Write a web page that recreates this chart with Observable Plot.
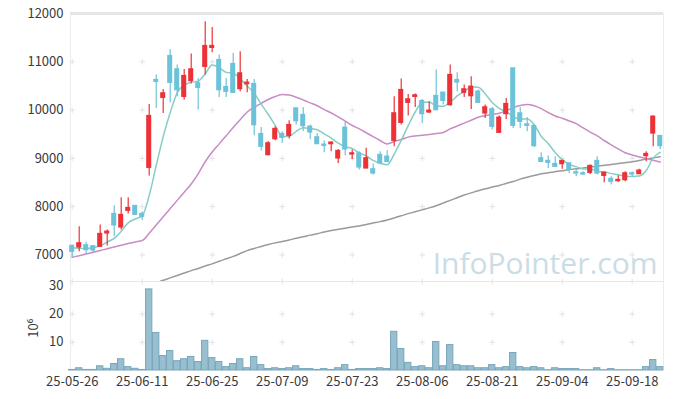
<!DOCTYPE html>
<html><head><meta charset="utf-8">
<script src="https://cdn.jsdelivr.net/npm/d3@7"></script>
<script src="https://cdn.jsdelivr.net/npm/@observablehq/plot@0.6"></script>
<style>
body{margin:0;background:#fff;}
#wrap{position:relative;width:673px;height:399px;}
#wrap svg{position:absolute;left:0;overflow:visible;}
</style></head><body><div id="wrap"></div>
<script>
const dates = ["25-05-26","25-05-27","25-05-28","25-05-29","25-05-30","25-06-02","25-06-04","25-06-05","25-06-09","25-06-10",
"25-06-11","25-06-12","25-06-13","25-06-16","25-06-17","25-06-18","25-06-19","25-06-20","25-06-23","25-06-24",
"25-06-25","25-06-26","25-06-27","25-06-30","25-07-01","25-07-02","25-07-03","25-07-04","25-07-07","25-07-08",
"25-07-09","25-07-10","25-07-11","25-07-14","25-07-15","25-07-16","25-07-17","25-07-18","25-07-21","25-07-22",
"25-07-23","25-07-24","25-07-25","25-07-28","25-07-29","25-07-30","25-07-31","25-08-01","25-08-04","25-08-05",
"25-08-06","25-08-07","25-08-08","25-08-11","25-08-12","25-08-13","25-08-14","25-08-18","25-08-19","25-08-20",
"25-08-21","25-08-22","25-08-25","25-08-26","25-08-27","25-08-28","25-08-29","25-09-01","25-09-02","25-09-03",
"25-09-04","25-09-05","25-09-08","25-09-09","25-09-10","25-09-11","25-09-12","25-09-15","25-09-16","25-09-17",
"25-09-18","25-09-19","25-09-22","25-09-23","25-09-24"];

const open = [7185,7157,7198,7178,7171,7447,7847,7571,7916,8013,
7847,8806,10621,10255,11118,10842,10276,10601,10552,10897,
11290,11035,10476,10952,10435,10538,10538,9503,9069,9400,
9503,9469,10034,9897,9655,9434,9282,9296,9000,9634,
9082,9103,8792,8772,9069,9034,9365,9738,10152,10276,
10186,9952,10290,10359,10103,10621,10359,10290,10380,9931,
10014,9531,9917,10862,9931,9703,9669,9000,8945,8882,
8882,8896,8709,8689,8703,8945,8640,8572,8530,8551,
8689,8675,9048,9517,9462];
const high = [7205,7585,7261,7185,7620,7516,8020,8185,8185,8020,
7895,10117,10725,10428,11256,10932,10842,11159,10655,11829,
11711,11138,10655,11173,11207,10635,10635,9641,9345,9655,
9552,9779,10034,10055,9690,9517,9358,9345,9186,9759,
9172,9138,9207,8882,9138,9158,10276,10642,10324,10331,
10221,10172,10828,10359,10932,10773,10518,10690,10414,10103,
10055,9876,10241,10862,10055,9848,9690,9117,9048,9034,
8945,8896,8772,8723,8862,9034,8703,8620,8640,8723,
8723,8772,9138,9876,9462];
const low = [6930,7067,7012,7047,7157,7185,7378,7516,7847,7826,
7709,8634,10034,9931,10152,10276,10207,10538,10000,10725,
11187,10262,10262,10345,10380,10359,9469,9151,9055,9365,
9310,9400,9690,9551,9393,9296,9117,9138,8896,9055,
8979,8758,8792,8654,8882,8910,9241,9690,9876,10055,
9724,9931,10000,10103,10083,10380,10262,10014,10152,9828,
9586,9531,9807,9621,9621,9552,9227,8917,8792,8813,
8772,8689,8620,8654,8668,8654,8496,8447,8503,8517,
8620,8675,8930,9241,9186];
const close = [7067,7240,7102,7095,7433,7480,7613,7827,7971,7833,
7792,9876,10587,10345,10566,10414,10704,10842,10462,11325,
11325,10414,10380,10359,10759,10566,9689,9241,9310,9607,
9427,9689,9772,9669,9538,9296,9262,9324,9151,9186,
9103,8813,9000,8689,8896,8930,9931,10414,10221,10303,
9917,9986,10000,10193,10725,10573,10428,10483,10152,10055,
9655,9841,10124,9676,9759,9676,9255,8930,8910,8827,
8945,8772,8689,8668,8841,8689,8703,8517,8551,8689,
8668,8744,9089,9862,9255];
// volume, millions of shares
const volume = [0.2,0.8,0.2,0.2,1.5,0.6,2.3,4.0,1.2,0.6,
0.2,28.7,13.3,5.1,6.9,3.3,4.0,4.8,3.0,10.5,
4.4,3.0,1.2,2.3,4.0,0.8,4.8,1.9,0.5,0.8,
0.5,0.8,1.5,0.5,0.5,0.2,0.5,0.2,0.8,1.9,
0.2,0.5,0.5,0.5,0.8,0.5,13.7,7.6,2.7,1.2,
1.5,0.8,10.1,1.5,9.0,1.9,1.5,1.5,0.8,0.8,
1.9,0.8,1.2,6.2,1.2,0.8,1.2,0.8,0.1,0.8,
0.5,0.5,0.5,0.1,0.1,0.8,0.1,0.5,0.1,0.1,
0.1,0.1,1.2,3.7,1.2];
// moving averages
const ma5 = [7150,7140,7130,7150,7187,7270,7345,7490,7665,7745,
7807,8230,8850,9450,9950,10358,10523,10574,10598,10749,
10932,10874,10781,10761,10647,10496,10351,10123,9913,9683,
9455,9455,9561,9633,9619,9593,9507,9418,9314,9244,
9205,9115,9051,8958,8900,8866,9089,9372,9678,9960,
10157,10168,10085,10080,10164,10295,10384,10480,10472,10338,
10155,10037,9965,9870,9811,9815,9698,9459,9306,9120,
8973,8877,8829,8780,8783,8732,8718,8684,8660,8630,
8626,8634,8748,9010,9124];
const ma20 = [6950,6985,7020,7055,7090,7130,7165,7200,7235,7270,
7300,7450,7620,7790,7960,8130,8300,8470,8680,8930,
9130,9300,9470,9640,9800,9960,10060,10140,10220,10280,
10324,10310,10265,10210,10150,10090,10010,9940,9860,9770,
9680,9610,9530,9450,9370,9300,9350,9390,9440,9465,
9480,9495,9515,9535,9610,9670,9730,9790,9850,9885,
9910,9935,9990,10050,10095,10117,10090,10030,9950,9876,
9830,9775,9720,9630,9545,9465,9370,9280,9195,9117,
9070,9030,9000,8960,8924];
const maLongStart = 12;
const maLong = [6420,6475,6525,6575,6625,6675,6720,6770,
6815,6870,6920,6970,7030,7090,7135,7175,7215,7250,
7280,7310,7345,7375,7410,7440,7475,7505,7530,7555,
7580,7600,7630,7660,7690,7725,7765,7810,7855,7895,
7935,7975,8020,8075,8130,8185,8240,8285,8330,8370,
8405,8440,8480,8520,8570,8610,8645,8680,8700,8725,
8745,8765,8785,8800,8820,8838,8855,8875,8892,8910,
8930,8955,8985,9010,9034];
const priceTicks = [7000,8000,9000,10000,11000,12000];
const gridPrices = [7000,8000,9000,10000,11000];
const volumeTicks = [10,20,30];
const dateTicks = [0,10,20,30,40,50,60,70,80];

const RED = "#ec3237", BLUE = "#6cc3d9";
const FONT = "'Noto Sans CJK KR','Noto Sans',sans-serif";
const xDomain = [-0.243, 84.47];

const candles = dates.map((d, i) => ({i, o: open[i], h: high[i], l: low[i], c: close[i], up: close[i] >= open[i]}));
const vols = volume.map((v, i) => ({i, v}));
const l5 = ma5.map((v, i) => ({i, v}));
const l20 = ma20.map((v, i) => ({i, v}));
const lL = maLong.map((v, k) => ({i: k + maLongStart, v}));
const gridMain = dateTicks.flatMap(i => [...gridPrices, 6450].map(y => ({i, y})));
const gridVol = dateTicks.flatMap(i => [10, 20].map(y => ({i, y})));

const main = Plot.plot({
  width: 673, height: 282, marginLeft: 70, marginRight: 10, marginTop: 13, marginBottom: 1,
  x: {domain: xDomain, axis: null},
  y: {domain: [6450, 12000], axis: null},
  style: {fontFamily: FONT, background: "transparent"},
  marks: [
    Plot.text(["InfoPointer.com"], {frameAnchor: "bottom-right", dx: -6, dy: -8, fontSize: 30, fill: "#cadce6", fontFamily: "'Open Sans',sans-serif"}),
    Plot.dot(gridMain, {x: "i", y: "y", symbol: "plus", r: 2, stroke: "#e2e2e2", strokeWidth: 1}),
    Plot.ruleX([xDomain[0], xDomain[1]], {stroke: "#ececec"}),
    Plot.ruleY([6450], {stroke: "#e6e6e6"}),
    Plot.ruleY([12000], {stroke: "#e6e6e6", strokeWidth: 3}),
    Plot.line(lL, {x: "i", y: "v", stroke: "#9a9a9a", strokeWidth: 1.5, curve: "monotone-x", clip: true}),
    Plot.line(l20, {x: "i", y: "v", stroke: "#c98bc4", strokeWidth: 1.5, curve: "monotone-x", clip: true}),
    Plot.line(l5, {x: "i", y: "v", stroke: "#87cdc3", strokeWidth: 1.5, curve: "monotone-x", clip: true}),
    Plot.ruleX(candles, {x: "i", y1: "l", y2: "h", stroke: d => d.up ? RED : BLUE, strokeWidth: 1.2}),
    Plot.rect(candles, {x1: d => d.i - 0.36, x2: d => d.i + 0.36, y1: "o", y2: "c", fill: d => d.up ? RED : BLUE, insetTop: -0.7, insetBottom: -0.7}),
    Plot.axisY(priceTicks, {tickSize: 0, tickPadding: 7, fontSize: 13, fill: "#3a3a3a", label: null, tickFormat: d => String(d)})
  ]
});

const vol = Plot.plot({
  width: 673, height: 118, marginLeft: 70, marginRight: 10, marginTop: 0, marginBottom: 29,
  x: {domain: xDomain, axis: null},
  y: {domain: [0, 31.5], axis: null},
  style: {fontFamily: FONT, background: "transparent"},
  marks: [
    Plot.dot(gridVol, {x: "i", y: "y", symbol: "plus", r: 2, stroke: "#e2e2e2", strokeWidth: 1}),
    Plot.ruleX([xDomain[0], xDomain[1]], {stroke: "#ececec"}),
    Plot.rect(vols, {x1: d => d.i - 0.45, x2: d => d.i + 0.45, y1: 0, y2: "v", fill: "#98bfd0", stroke: "#78a6bb", strokeWidth: 1}),
    Plot.axisY(volumeTicks, {tickSize: 0, tickPadding: 7, fontSize: 13, fill: "#3a3a3a", label: null}),
    Plot.axisX(dateTicks, {tickSize: 0, tickPadding: 6, fontSize: 13, fill: "#3a3a3a", tickFormat: i => dates[i], label: null}),
    Plot.text(["10⁶"], {x: xDomain[0], y: 16, dx: -37, dy: 3, rotate: -90, fontSize: 13, fill: "#3a3a3a"})
  ]
});

const wrap = document.getElementById("wrap");
main.style.top = "0px";
vol.style.top = "281px";
wrap.appendChild(main);
wrap.appendChild(vol);
</script>
</body></html>
